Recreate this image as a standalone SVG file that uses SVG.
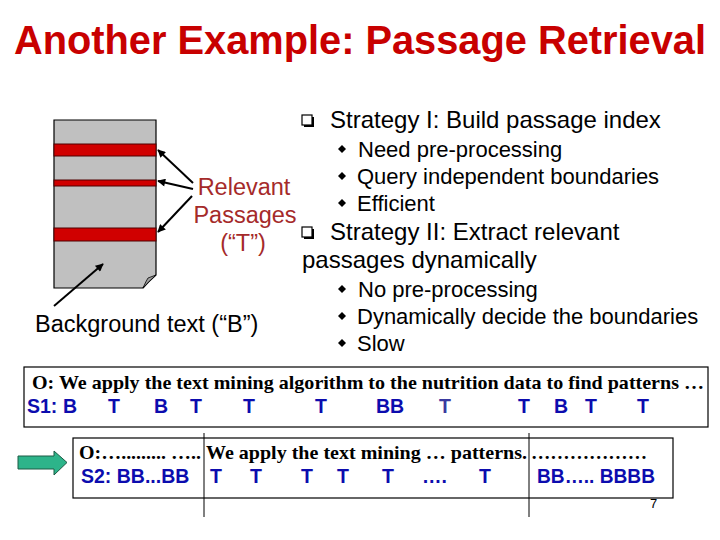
<svg xmlns="http://www.w3.org/2000/svg" width="720" height="540" viewBox="0 0 720 540">
<defs>
<style>
.sans{font-family:"Liberation Sans",Arial,sans-serif}
.serifb{font-family:"Liberation Serif","Times New Roman",serif;font-weight:bold;font-size:19px;fill:#000}
.blue{font-family:"Liberation Sans",Arial,sans-serif;font-weight:bold;font-size:19.5px;fill:#0c0cae}
.main{font-size:24px;fill:#000}
.sub{font-size:22px;fill:#000}
.lbl{font-size:23.5px;fill:#a52a2a}
.box{fill:#fff;stroke:#000;stroke-width:1.2}
.band{fill:#d00000;stroke:#500000;stroke-width:1}
.conn{stroke:#000;stroke-width:2;fill:none}
.dia{fill:#000}
</style>
<marker id="ah" viewBox="0 0 10 10" refX="9" refY="5" markerWidth="10" markerHeight="8" markerUnits="userSpaceOnUse" orient="auto">
<path d="M0,0 L10,5 L0,10 Z" fill="#000"/>
</marker>
<g id="chk">
<rect x="2" y="2" width="10" height="10" fill="#000"/>
<rect x="0" y="0" width="10" height="10" fill="#fff" stroke="#000" stroke-width="1.2"/>
</g>
</defs>
<rect width="720" height="540" fill="#fff"/>

<g id="title">
<text x="14" y="54" class="sans" font-weight="bold" font-size="40.5" fill="#c80000" textLength="692" lengthAdjust="spacingAndGlyphs">Another Example: Passage Retrieval</text>
</g>

<g id="document">
<path d="M54,120 H156 V275 Q149,281 143,288 H54 Z" fill="#c0c0c0" stroke="#000" stroke-width="1.2"/>
<path d="M143,288 Q146,281 148,278 L156,275 Q149,281 143,288 Z" fill="#a0a0a0" stroke="#000" stroke-width="0.8"/>
<rect class="band" x="54" y="144" width="102" height="12"/>
<rect class="band" x="54" y="180" width="102" height="6"/>
<rect class="band" x="54" y="228" width="102" height="13"/>
</g>

<g id="relevant-label">
<text class="sans lbl" text-anchor="middle"><tspan x="244" y="195">Relevant</tspan><tspan x="245" y="223">Passages</tspan><tspan x="243" y="251">(“T”)</tspan></text>
</g>

<g id="background-label">
<text x="35" y="332" class="sans" font-size="23.5" fill="#000">Background text (“B”)</text>
</g>

<g id="connectors">
<line class="conn" x1="193" y1="183" x2="158" y2="150" marker-end="url(#ah)"/>
<line class="conn" x1="193" y1="189" x2="158" y2="181" marker-end="url(#ah)"/>
<line class="conn" x1="192" y1="196" x2="158" y2="232" marker-end="url(#ah)"/>
<line class="conn" x1="54" y1="306" x2="103" y2="264" marker-end="url(#ah)"/>
</g>

<g id="strategies">
<use href="#chk" x="302" y="115"/>
<text x="330" y="128" class="sans main">Strategy I: Build passage index</text>
<path class="dia" d="M342,145 L346,149 L342,153 L338,149 Z"/>
<text x="358" y="157" class="sans sub">Need pre-processing</text>
<path class="dia" d="M342,172 L346,176 L342,180 L338,176 Z"/>
<text x="357" y="184" class="sans sub">Query independent boundaries</text>
<path class="dia" d="M342,199 L346,203 L342,207 L338,203 Z"/>
<text x="357" y="211" class="sans sub">Efficient</text>
<use href="#chk" x="302" y="227"/>
<text x="330" y="240" class="sans main">Strategy II: Extract relevant</text>
<text x="302" y="268" class="sans main">passages dynamically</text>
<path class="dia" d="M342,285 L346,289 L342,293 L338,289 Z"/>
<text x="358" y="297" class="sans sub">No pre-processing</text>
<path class="dia" d="M342,312 L346,316 L342,320 L338,316 Z"/>
<text x="357" y="324" class="sans sub">Dynamically decide the boundaries</text>
<path class="dia" d="M342,339 L346,343 L342,347 L338,343 Z"/>
<text x="357" y="351" class="sans sub">Slow</text>
</g>

<g id="s1-box">
<rect class="box" x="24" y="367" width="684" height="60"/>
<text x="32" y="389" class="serifb" textLength="672" lengthAdjust="spacingAndGlyphs">O: We apply the text mining algorithm to the nutrition data to find patterns …</text>
<text y="413" class="blue"><tspan x="27">S1:</tspan><tspan x="63">B</tspan><tspan x="108">T</tspan><tspan x="154">B</tspan><tspan x="190">T</tspan><tspan x="243">T</tspan><tspan x="315">T</tspan><tspan x="376">BB</tspan><tspan x="439" fill="#3a3aa0">T</tspan><tspan x="518">T</tspan><tspan x="554">B</tspan><tspan x="585">T</tspan><tspan x="637">T</tspan></text>
</g>

<g id="green-arrow">
<path d="M18,456 H54 V451 L67,462.5 L54,475 V469 H18 Z" fill="#2db48a" stroke="#1d5a44" stroke-width="1"/>
</g>

<g id="s2-box">
<rect class="box" x="73" y="438" width="600" height="60"/>
<line x1="204" y1="433" x2="204" y2="517" stroke="#000" stroke-width="1"/>
<line x1="529" y1="433" x2="529" y2="517" stroke="#000" stroke-width="1"/>
<text x="79" y="459" class="serifb" textLength="122" lengthAdjust="spacingAndGlyphs">O:…......... …..</text>
<text x="206" y="459" class="serifb" textLength="321" lengthAdjust="spacingAndGlyphs">We apply the text mining …  patterns.</text>
<text x="531" y="459" class="serifb" textLength="116" lengthAdjust="spacingAndGlyphs">………………</text>
<text y="483" class="blue"><tspan x="81">S2: BB...BB</tspan><tspan x="210">T</tspan><tspan x="250">T</tspan><tspan x="301">T</tspan><tspan x="337">T</tspan><tspan x="382">T</tspan><tspan x="422">….</tspan><tspan x="479">T</tspan></text>
<text x="537" y="483" class="blue" textLength="118" lengthAdjust="spacingAndGlyphs">BB….. BBBB</text>
</g>

<g id="page-number">
<text x="650" y="508" class="sans" font-size="13" fill="#000">7</text>
</g>
</svg>
